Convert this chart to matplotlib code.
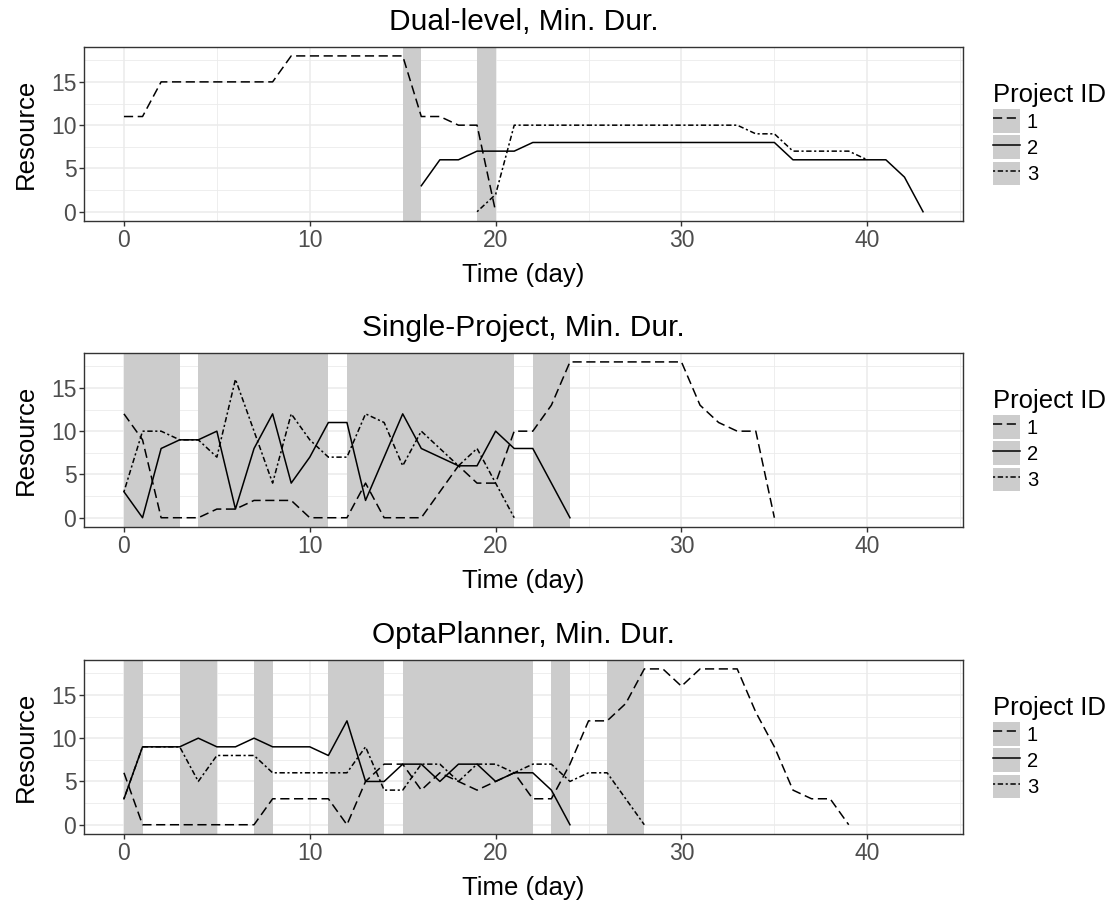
import matplotlib
matplotlib.use("Agg")
import matplotlib.pyplot as plt
from matplotlib.lines import Line2D
from matplotlib.patches import Patch
from matplotlib.ticker import MultipleLocator

plt.rcParams['font.family'] = ['Liberation Sans', 'DejaVu Sans']

# ---------------- data ----------------
titles = ["Dual-level, Min. Dur.", "Single-Project, Min. Dur.", "OptaPlanner, Min. Dur."]
project_ids = ["1", "2", "3"]

# Panel 1: Dual-level
p1_proj1_x = list(range(0, 21))
p1_proj1_y = [11, 11, 15, 15, 15, 15, 15, 15, 15, 18, 18, 18, 18, 18, 18, 18, 11, 11, 10, 10, 0]
p1_proj2_x = list(range(16, 44))
p1_proj2_y = [3, 6, 6, 7, 7, 7] + [8] * 14 + [6] * 6 + [4, 0]
p1_proj3_x = list(range(19, 41))
p1_proj3_y = [0, 2] + [10] * 13 + [9, 9, 7, 7, 7, 7, 6]
p1_shade = [(15, 16), (19, 20)]

# Panel 2: Single-Project
p2_proj1_x = list(range(0, 36))
p2_proj1_y = [12, 9, 0, 0, 0, 1, 1, 2, 2, 2, 0, 0, 0, 4, 0, 0, 0, 3, 6, 4, 4, 10, 10, 13,
              18, 18, 18, 18, 18, 18, 18, 13, 11, 10, 10, 0]
p2_proj2_x = list(range(0, 25))
p2_proj2_y = [3, 0, 8, 9, 9, 10, 1, 8, 12, 4, 7, 11, 11, 2, 7, 12, 8, 7, 6, 6, 10, 8, 8, 4, 0]
p2_proj3_x = list(range(0, 22))
p2_proj3_y = [3, 10, 10, 9, 9, 7, 16, 10, 4, 12, 9, 7, 7, 12, 11, 6, 10, 8, 6, 8, 4, 0]
p2_shade = [(0, 3), (4, 11), (12, 21), (22, 24)]

# Panel 3: OptaPlanner
p3_proj1_x = list(range(0, 40))
p3_proj1_y = [6, 0, 0, 0, 0, 0, 0, 0, 3, 3, 3, 3, 0, 5, 7, 7, 4, 6, 5, 4, 5, 6, 3, 3, 7,
              12, 12, 14, 18, 18, 16, 18, 18, 18, 13, 9, 4, 3, 3, 0]
p3_proj2_x = list(range(0, 25))
p3_proj2_y = [3, 9, 9, 9, 10, 9, 9, 10, 9, 9, 9, 8, 12, 5, 5, 7, 7, 5, 7, 7, 5, 6, 6, 4, 0]
p3_proj3_x = list(range(0, 29))
p3_proj3_y = [3, 9, 9, 9, 5, 8, 8, 8, 6, 6, 6, 6, 6, 9, 4, 4, 7, 7, 5, 7, 7, 6, 7, 7, 5, 6, 6, 3, 0]
p3_shade = [(0, 1), (3, 5), (7, 8), (11, 14), (15, 22), (23, 24), (26, 28)]

panels = [
    (titles[0], [(p1_proj1_x, p1_proj1_y), (p1_proj2_x, p1_proj2_y), (p1_proj3_x, p1_proj3_y)], p1_shade),
    (titles[1], [(p2_proj1_x, p2_proj1_y), (p2_proj2_x, p2_proj2_y), (p2_proj3_x, p2_proj3_y)], p2_shade),
    (titles[2], [(p3_proj1_x, p3_proj1_y), (p3_proj2_x, p3_proj2_y), (p3_proj3_x, p3_proj3_y)], p3_shade),
]

# ---------------- style ----------------
styles = [(0, (6.0, 3.0)), '-', (0, (1.4, 1.7, 3.5, 1.7))]
SHADE = '#CCCCCC'
GRID = '#EBEBEB'
BORDER = '#333333'
TICKC = '#4D4D4D'
LW = 1.1

W, H = 1114, 905
fig = plt.figure(figsize=(W / 100, H / 100), dpi=100)

left_px, right_px = 84, 963
tops = [47, 353, 660]
ph = 174

for (title, series, shade), top in zip(panels, tops):
    ax = fig.add_axes([left_px / W, 1 - (top + ph) / H, (right_px - left_px) / W, ph / H])
    ax.set_xlim(-2.15, 45.15)
    ax.set_ylim(-1.07, 19.03)
    ax.xaxis.set_major_locator(MultipleLocator(10))
    ax.xaxis.set_minor_locator(MultipleLocator(5))
    ax.yaxis.set_major_locator(MultipleLocator(5))
    ax.yaxis.set_minor_locator(MultipleLocator(2.5))
    ax.set_axisbelow(True)
    ax.grid(which='major', color=GRID, lw=1.1, zorder=0)
    ax.grid(which='minor', color=GRID, lw=0.6, zorder=0)
    for a, b in shade:
        ax.axvspan(a, b, color=SHADE, lw=0, zorder=1)
    for (xs, ys), ls in zip(series, styles):
        ax.plot(xs, ys, color='black', lw=LW, linestyle=ls, zorder=3)
    for sp in ax.spines.values():
        sp.set_color(BORDER)
        sp.set_linewidth(1.0)
    ax.tick_params(which='major', length=3.5, width=1.0, color=BORDER,
                   labelcolor=TICKC, labelsize=16.5, pad=2)
    ax.tick_params(which='minor', length=0)
    ax.text(0.5, 1.144, title, transform=ax.transAxes, ha='center', va='center',
            fontsize=21.5, color='black')
    ax.set_xlabel("Time (day)", fontsize=18.5)
    ax.xaxis.label.set_va('center')
    ax.xaxis.set_label_coords(0.5, -0.31)
    ax.set_ylabel("Resource", fontsize=18.5)
    ax.yaxis.label.set_va('center')
    ax.yaxis.set_label_coords(-0.066, 0.5)

    handles = [(Patch(facecolor=SHADE, edgecolor='none'),
                Line2D([], [], color='black', lw=LW, linestyle=ls)) for ls in styles]
    leg = ax.legend(handles, project_ids, title="Project ID", loc='center left',
                    bbox_to_anchor=(1.034, 0.5), frameon=False, fontsize=14.5,
                    title_fontsize=18.5, handlelength=1.33, handleheight=1.45,
                    handletextpad=0.35, labelspacing=0.12, borderpad=0, borderaxespad=0,
                    alignment='left')

fig.savefig("out.png", dpi=100)
